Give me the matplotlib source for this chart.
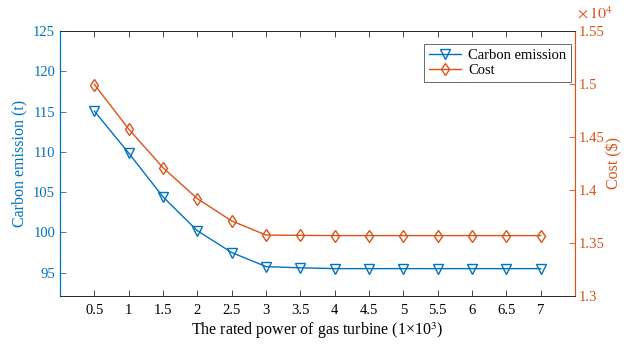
import matplotlib
matplotlib.use("Agg")
import matplotlib.pyplot as plt

power = [0.5, 1, 1.5, 2, 2.5, 3, 3.5, 4, 4.5, 5, 5.5, 6, 6.5, 7]
carbon = [115.05, 109.85, 104.4, 100.2, 97.5, 95.75, 95.6, 95.5, 95.5, 95.5, 95.5, 95.5, 95.5, 95.5]
cost = [14995, 14575, 14210, 13918, 13708, 13575, 13572, 13570, 13570, 13570, 13570, 13570, 13570, 13570]
xticks = [0.5, 1, 1.5, 2, 2.5, 3, 3.5, 4, 4.5, 5, 5.5, 6, 6.5, 7]
xticklabels = ["0.5", "1", "1.5", "2", "2.5", "3", "3.5", "4", "4.5", "5", "5.5", "6", "6.5", "7"]
left_ticks = [95, 100, 105, 110, 115, 120, 125]
right_ticks = [13000, 13500, 14000, 14500, 15000, 15500]
right_labels = ["1.3", "1.35", "1.4", "1.45", "1.5", "1.55"]

plt.rcParams['font.family'] = ['Liberation Serif', 'DejaVu Serif']
plt.rcParams['mathtext.fontset'] = 'stix'

blue = (0, 0.447, 0.741)
orange = (0.85, 0.325, 0.098)
gray = (0.15, 0.15, 0.15)

fig = plt.figure(figsize=(6.24, 3.44), dpi=100)
ax = fig.add_axes([0.0962, 0.1395, 0.8253, 0.7705])
ax2 = ax.twinx()

l1, = ax.plot(power, carbon, color=blue, marker='v', markerfacecolor='none',
              markersize=6.5, linewidth=1.0, label='Carbon emission')
l2, = ax2.plot(power, cost, color=orange, marker='d', markerfacecolor='none',
               markersize=6.5, linewidth=1.0, label='Cost')

ax.set_xlim(0, 7.5)
ax.set_ylim(92.1, 125)
ax2.set_ylim(13000, 15500)

ax.set_xticks(xticks)
ax.set_xticklabels(xticklabels, fontsize=10.5)
ax.set_yticks(left_ticks)
ax.set_yticklabels([str(v) for v in left_ticks], fontsize=10.5, color=blue)
ax2.set_yticks(right_ticks)
ax2.set_yticklabels(right_labels, fontsize=10.5, color=orange)

ax.tick_params(axis='x', direction='in', top=True, length=4, width=0.6, colors=gray, pad=6)
ax.tick_params(axis='y', direction='in', length=4, width=0.6, colors=blue)
ax2.tick_params(axis='y', direction='in', length=4, width=0.6, colors=orange, pad=3)
for lab in ax.get_xticklabels():
    lab.set_color('black')

for a in (ax, ax2):
    a.spines['top'].set_color(gray)
    a.spines['bottom'].set_color(gray)
    a.spines['top'].set_linewidth(0.6)
    a.spines['bottom'].set_linewidth(0.6)
ax.spines['left'].set_color(blue)
ax2.spines['left'].set_color(blue)
ax.spines['right'].set_color(orange)
ax2.spines['right'].set_color(orange)
for s in ('left', 'right'):
    ax.spines[s].set_linewidth(0.8)
    ax2.spines[s].set_linewidth(0.8)

ax.set_xlabel('The rated power of gas turbine (1×10$^3$)', fontsize=11.5, labelpad=2)
ax.set_ylabel('Carbon emission (t)', fontsize=11.5, color=blue, labelpad=4)
ax2.set_ylabel('Cost ($)', fontsize=11.5, color=orange, labelpad=1)

ax2.text(1.003, 1.03, r'$\times\,10^4$', transform=ax2.transAxes, color=orange,
         fontsize=11.5, ha='left', va='bottom')

leg = ax2.legend([l1, l2], ['Carbon emission', 'Cost'], loc='upper right',
                 bbox_to_anchor=(0.997, 0.96), fontsize=10.5, frameon=True,
                 fancybox=False, edgecolor=gray, borderpad=0.3, handlelength=2.2,
                 handletextpad=0.5, labelspacing=0.15, borderaxespad=0.2)
leg.get_frame().set_linewidth(0.6)

fig.savefig('out.png', dpi=100)
